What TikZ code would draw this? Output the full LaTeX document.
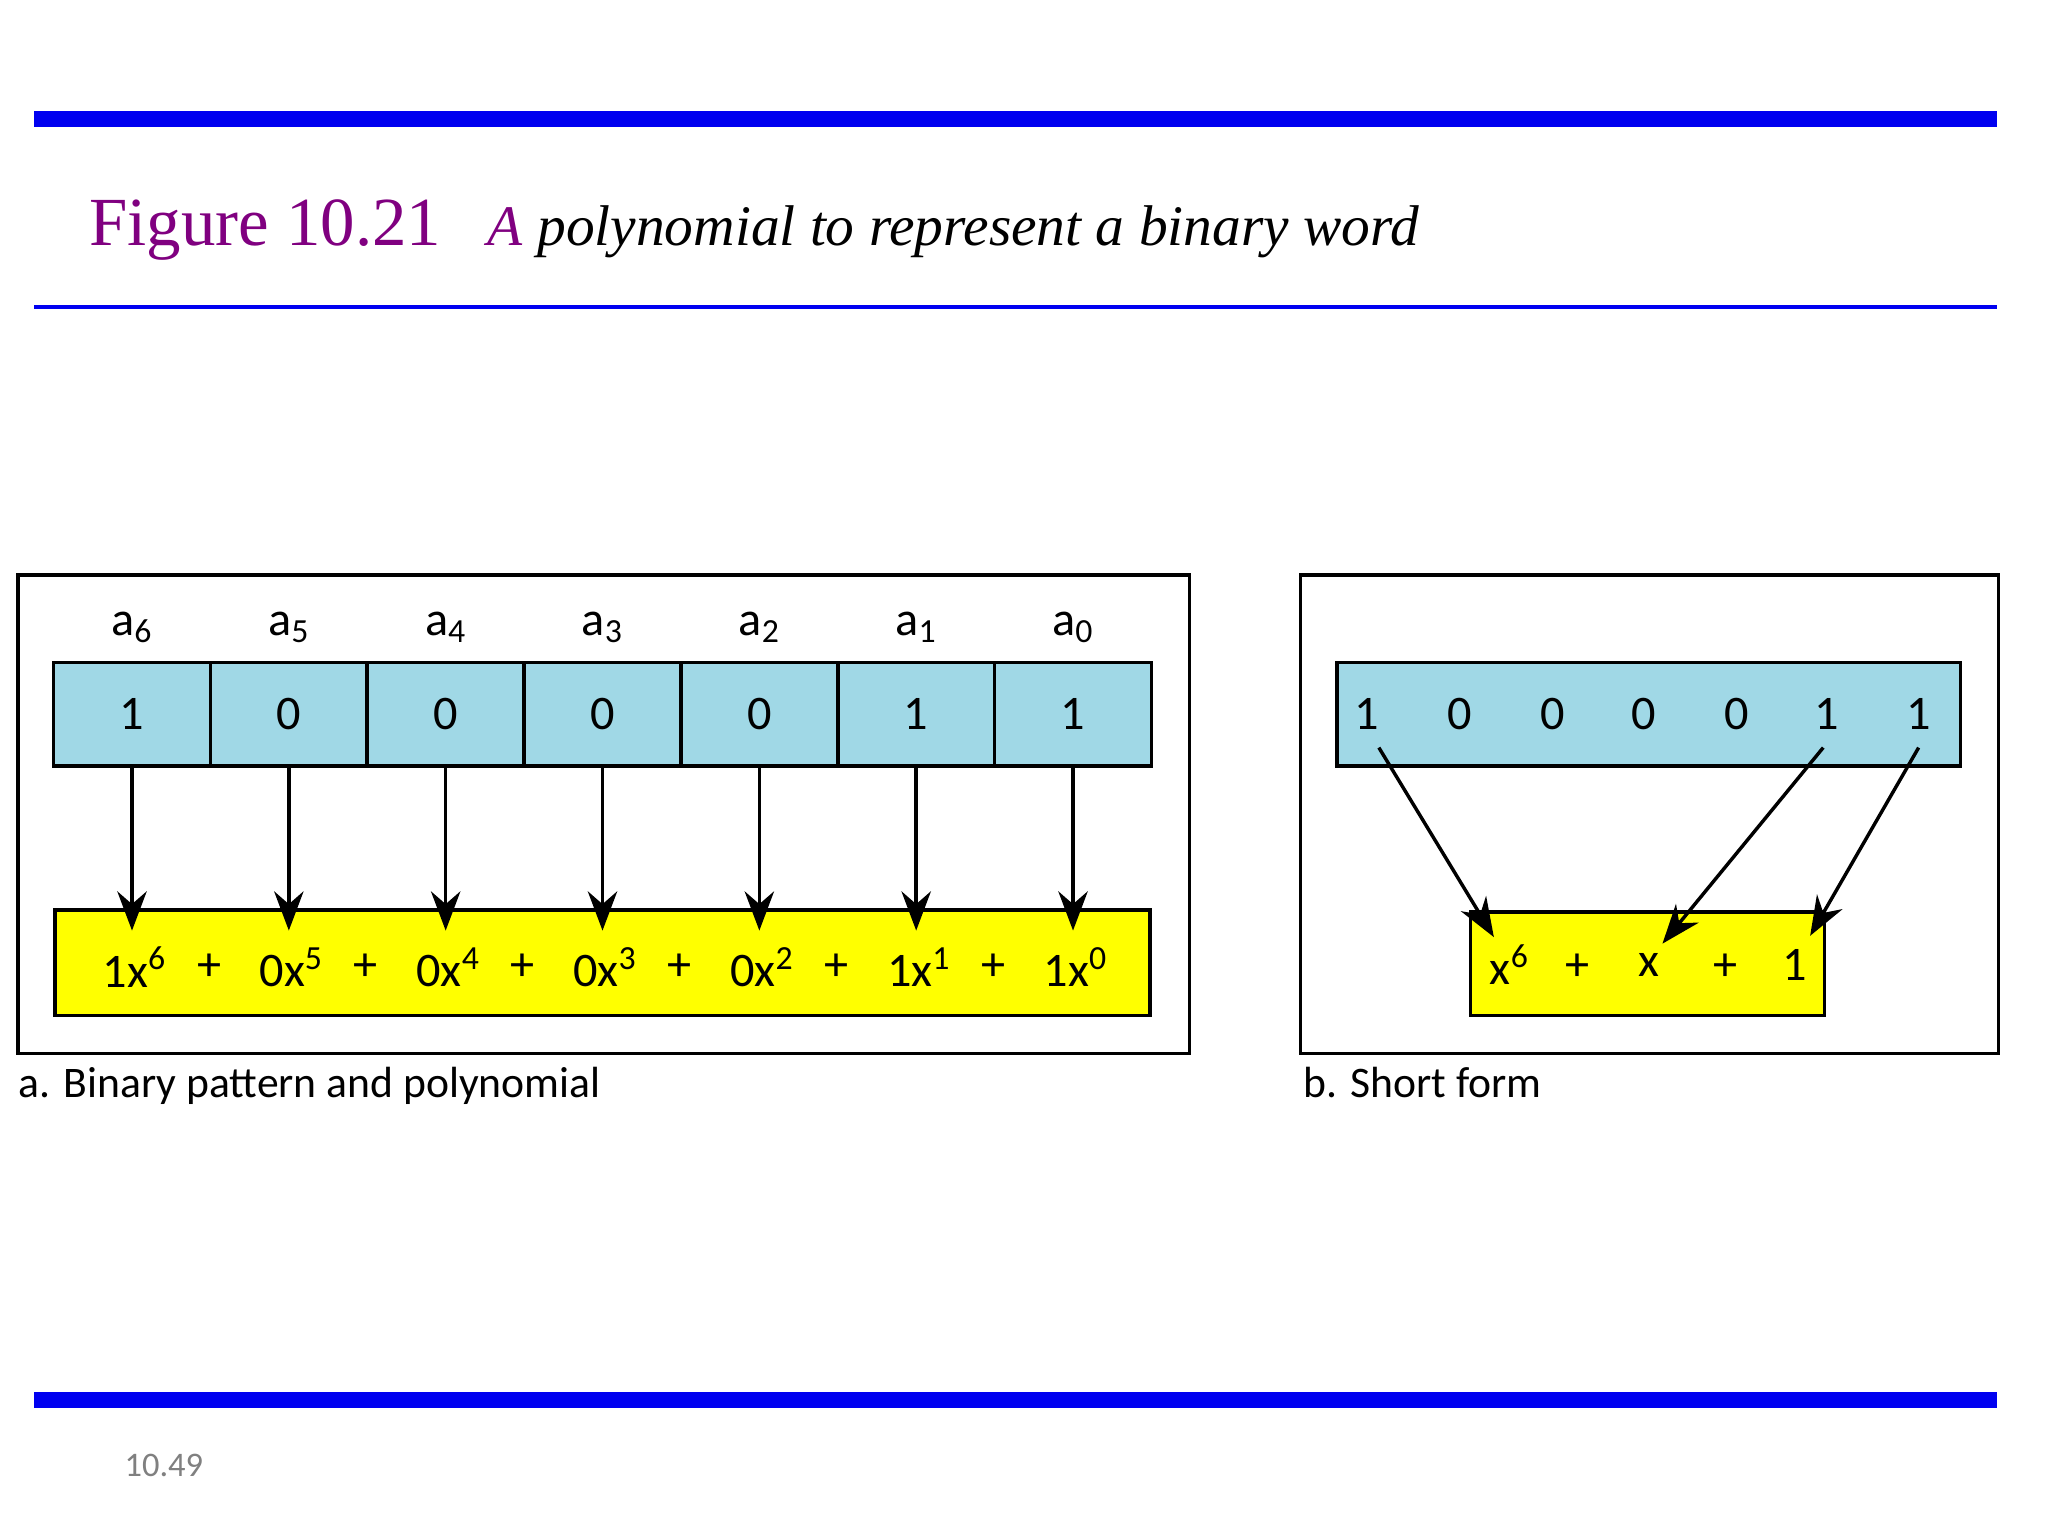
\documentclass[tikz,border=0pt]{standalone}
\usepackage{fontspec}
\setmainfont{Liberation Serif}
\newfontfamily\capfont{Carlito}
\usetikzlibrary{arrows.meta}
\definecolor{barblue}{RGB}{0,0,240}
\definecolor{titlepurple}{RGB}{128,0,128}
\definecolor{cellblue}{RGB}{160,216,230}
\definecolor{ylw}{RGB}{255,255,0}
\tikzset{
 cell/.style={draw=black,line width=1.6pt,fill=cellblue,minimum width=2.4cm,minimum height=1.58cm,inner sep=0pt,font=\capfont\fontsize{21}{25}\selectfont},
 lbl/.style={font=\capfont\fontsize{21}{25}\selectfont,inner sep=0pt},
 frame/.style={draw=black,line width=1.6pt},
 arr/.style={line width=1.5pt,-{Stealth[length=0.6cm,width=0.45cm]}}
}
\begin{document}
\begin{tikzpicture}[x=0.02cm,y=-0.02cm]
\useasboundingbox[fill=white] (0,0) rectangle (1567,1175.25);
\fill[barblue] (26,85) rectangle (1528,97);
\fill[barblue] (26,233.5) rectangle (1528,236.5);
\fill[barblue] (26,1065) rectangle (1528,1077);
\node[anchor=base west,inner sep=0pt,text=titlepurple,font=\fontsize{30}{34}\selectfont] (fig) at (68,188) {Figure 10.21};
\node[anchor=base west,inner sep=0pt,font=\itshape\fontsize{25}{30}\selectfont] (ttl) at (373,188) {\textcolor{titlepurple}{A} polynomial to represent a binary word};
% panel a
\draw[frame] (14,440) rectangle (910,806);
\node[frame,fill=ylw,minimum width=16.76cm,minimum height=1.62cm,inner sep=0pt] (ya) at (461,736.5) {};
\foreach \i/\v [count=\k] in {6/1,5/0,4/0,3/0,2/0,1/1,0/1}{
  \node[cell] (c\k) at ({101+120*(\k-1)},546.5) {\v};
  \node[lbl] (l\k) at ({101+120*(\k-1)},480) {a\textsubscript{\i}};
  \node[lbl] (t\k) at ({101+120*(\k-1)+2},740) {\v x\textsuperscript{\i}};
  \coordinate (e\k) at ({101+120*(\k-1)},712);
  \draw[arr] (c\k.south) -- (e\k);
}
\foreach \k in {1,...,6}{\node[lbl] (pl\k) at ({160+120*(\k-1)},740) {+};}
\node[lbl,anchor=base west,font=\capfont\fontsize{19}{23}\selectfont] (capa) at (14,840) {a. Binary pattern and polynomial};
% panel b
\draw[frame] (995,440) rectangle (1529,806);
\node[frame,fill=cellblue,minimum width=9.54cm,minimum height=1.58cm,inner sep=0pt] (bb) at (1261.5,546.5) {};
\foreach \x/\v [count=\k] in {1046/1,1117/0,1188/0,1258/0,1329/0,1398/1,1468/1}{
  \node[lbl] (d\k) at (\x,546.5) {\v};
}
\node[frame,fill=ylw,minimum width=5.42cm,minimum height=1.58cm,inner sep=0pt] (yb) at (1260.5,737.5) {};
\node[lbl] (s1) at (1155,738) {x\textsuperscript{6}};
\node[lbl] (s2) at (1207,740) {+};
\node[lbl] (s3) at (1262,738) {x};
\node[lbl] (s4) at (1320,740) {+};
\node[lbl] (s5) at (1373,738) {1};
\coordinate (f1) at (1055,572); \coordinate (g1) at (1143,717);
\coordinate (f2) at (1395,572); \coordinate (g2) at (1272,722);
\coordinate (f3) at (1468,572); \coordinate (g3) at (1385,716);
\draw[arr] (f1) -- (g1);
\draw[arr] (f2) -- (g2);
\draw[arr] (f3) -- (g3);
\node[lbl,anchor=base west,font=\capfont\fontsize{19}{23}\selectfont] (capb) at (997,840) {b. Short form};
\node[anchor=base west,inner sep=0pt,text=gray,font=\capfont\fontsize{15}{18}\selectfont] (pg) at (95,1130) {10.49};
\end{tikzpicture}
\end{document}
